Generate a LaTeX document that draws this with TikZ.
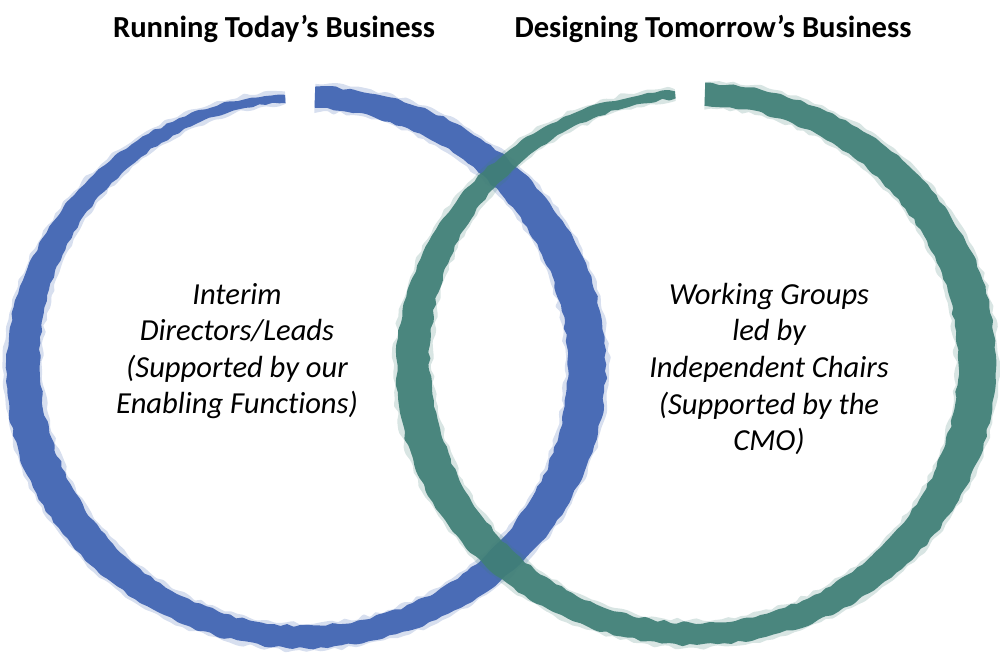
\documentclass[tikz,border=0pt]{standalone}
\usepackage{fontspec}
\setmainfont{Carlito}[Ligatures=CommonOff]
\usepackage{xcolor}
\usepackage{tikz}
\usetikzlibrary{positioning}

\definecolor{runblue}{RGB}{74,108,182}
\definecolor{designgreen}{RGB}{64,127,119}

\tikzset{
    head/.style={font=\fontsize{17.4}{21}\selectfont\bfseries, inner sep=0pt},
    body/.style={font=\fontsize{17.4}{20.8}\selectfont\itshape, align=center, inner sep=0pt},
    declare function={bw(\t)=(30+8*cos(2*\t))*min(1,1-((88-\t)/354-0.7)*2.1);}
}

\begin{document}
\begin{tikzpicture}[x=0.02cm, y=0.02cm]
    \useasboundingbox (0,0) rectangle (1000,654);
    \pgfmathsetseed{11}
    % brush rings, blue first, green on top
    \foreach \cx/\cy/\col/\op in {305/287/runblue/1, 695/290/designgreen/0.93}{
        \fill[\col, opacity=0.22*\op] plot[domain=88:-266, samples=260, smooth]
            ({\cx+(282+bw(\x)/2+3+rand*2)*cos(\x)}, {\cy+(270+bw(\x)/2+3+rand*2)*sin(\x)})
            -- plot[domain=-266:88, samples=260, smooth]
            ({\cx+(282-bw(\x)/2-3+rand*2)*cos(\x)}, {\cy+(270-bw(\x)/2-3+rand*2)*sin(\x)}) -- cycle;
        \fill[\col, opacity=\op] plot[domain=88:-266, samples=260, smooth]
            ({\cx+(282+bw(\x)/2+rand*1.5)*cos(\x)}, {\cy+(270+bw(\x)/2+rand*1.5)*sin(\x)})
            -- plot[domain=-266:88, samples=260, smooth]
            ({\cx+(282-bw(\x)/2+rand*1.5)*cos(\x)}, {\cy+(270-bw(\x)/2+rand*1.5)*sin(\x)}) -- cycle;
    }
    \node[head] (runhead) at (274,625) {Running Today’s Business};
    \node[head] (designhead) at (713,625) {Designing Tomorrow’s Business};
    \node[body] (runtext) at (237,303) {Interim\\Directors/Leads\\(Supported by our\\Enabling Functions)};
    \node[body] (designtext) at (769,285) {Working Groups\\led by\\Independent Chairs\\(Supported by the\\CMO)};
\end{tikzpicture}
\end{document}
